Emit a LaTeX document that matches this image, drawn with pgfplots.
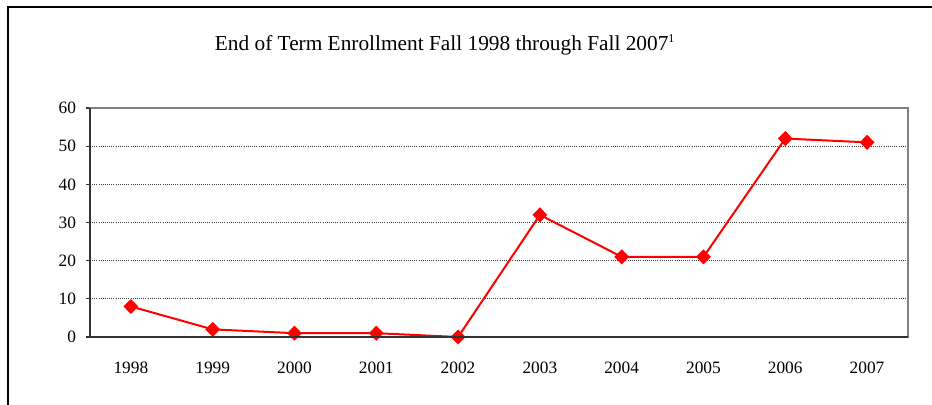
\documentclass[border=0pt]{standalone}
\usepackage{pgfplots}
\pgfplotsset{compat=1.18}
\usepackage{fontspec}
\setmainfont{Liberation Serif}
\begin{document}
\begin{tikzpicture}
\useasboundingbox (0pt,0pt) rectangle (699pt,303pt);
\draw[line width=1.8pt,black] (6pt,-20pt) rectangle (720pt,297.75pt);
\node[font=\fontsize{16}{18}\selectfont] at (333.75pt,269.25pt) {End of Term Enrollment Fall 1998 through Fall 2007\textsuperscript{\fontsize{9}{10}\selectfont 1}};
\begin{axis}[
  at={(67.5pt,50.25pt)}, anchor=south west,
  scale only axis, width=613.5pt, height=171.75pt,
  xmin=1997.5, xmax=2007.5, ymin=0, ymax=60,
  xtick={1998,...,2007},
  minor xtick={1997.5,1998.5,...,2007.5},
  ytick={0,10,...,60},
  /pgf/number format/1000 sep={},
  /pgf/number format/assume math mode=true,
  tick align=outside,
  xtick pos=bottom, ytick pos=left,
  major tick length=3pt,
  every x tick/.style={draw=none},
  minor tick length=3.75pt,
  every minor tick/.style={black!80, line width=0.8pt},
  every major tick/.style={black!80, line width=0.8pt},
  ymajorgrids,
  major grid style={black!75, line width=0.6pt, densely dotted},
  ticklabel style={font=\fontsize{13}{15}\selectfont},
  xticklabel style={yshift=-12pt},
  yticklabel style={xshift=-4pt},
  axis line style={draw=black!50, line width=1pt},
  after end axis/.code={
    \draw[black!80, line width=1.2pt] (rel axis cs:0,1) -- (rel axis cs:0,0) -- (rel axis cs:1,0);
  },
]
\addplot[red, line width=1.5pt, mark=diamond*, mark size=4.6pt, mark options={solid, fill=red, xscale=1.3}]
coordinates {(1998,8) (1999,2) (2000,1) (2001,1) (2002,0) (2003,32) (2004,21) (2005,21) (2006,52) (2007,51)};
\end{axis}
\end{tikzpicture}
\end{document}
